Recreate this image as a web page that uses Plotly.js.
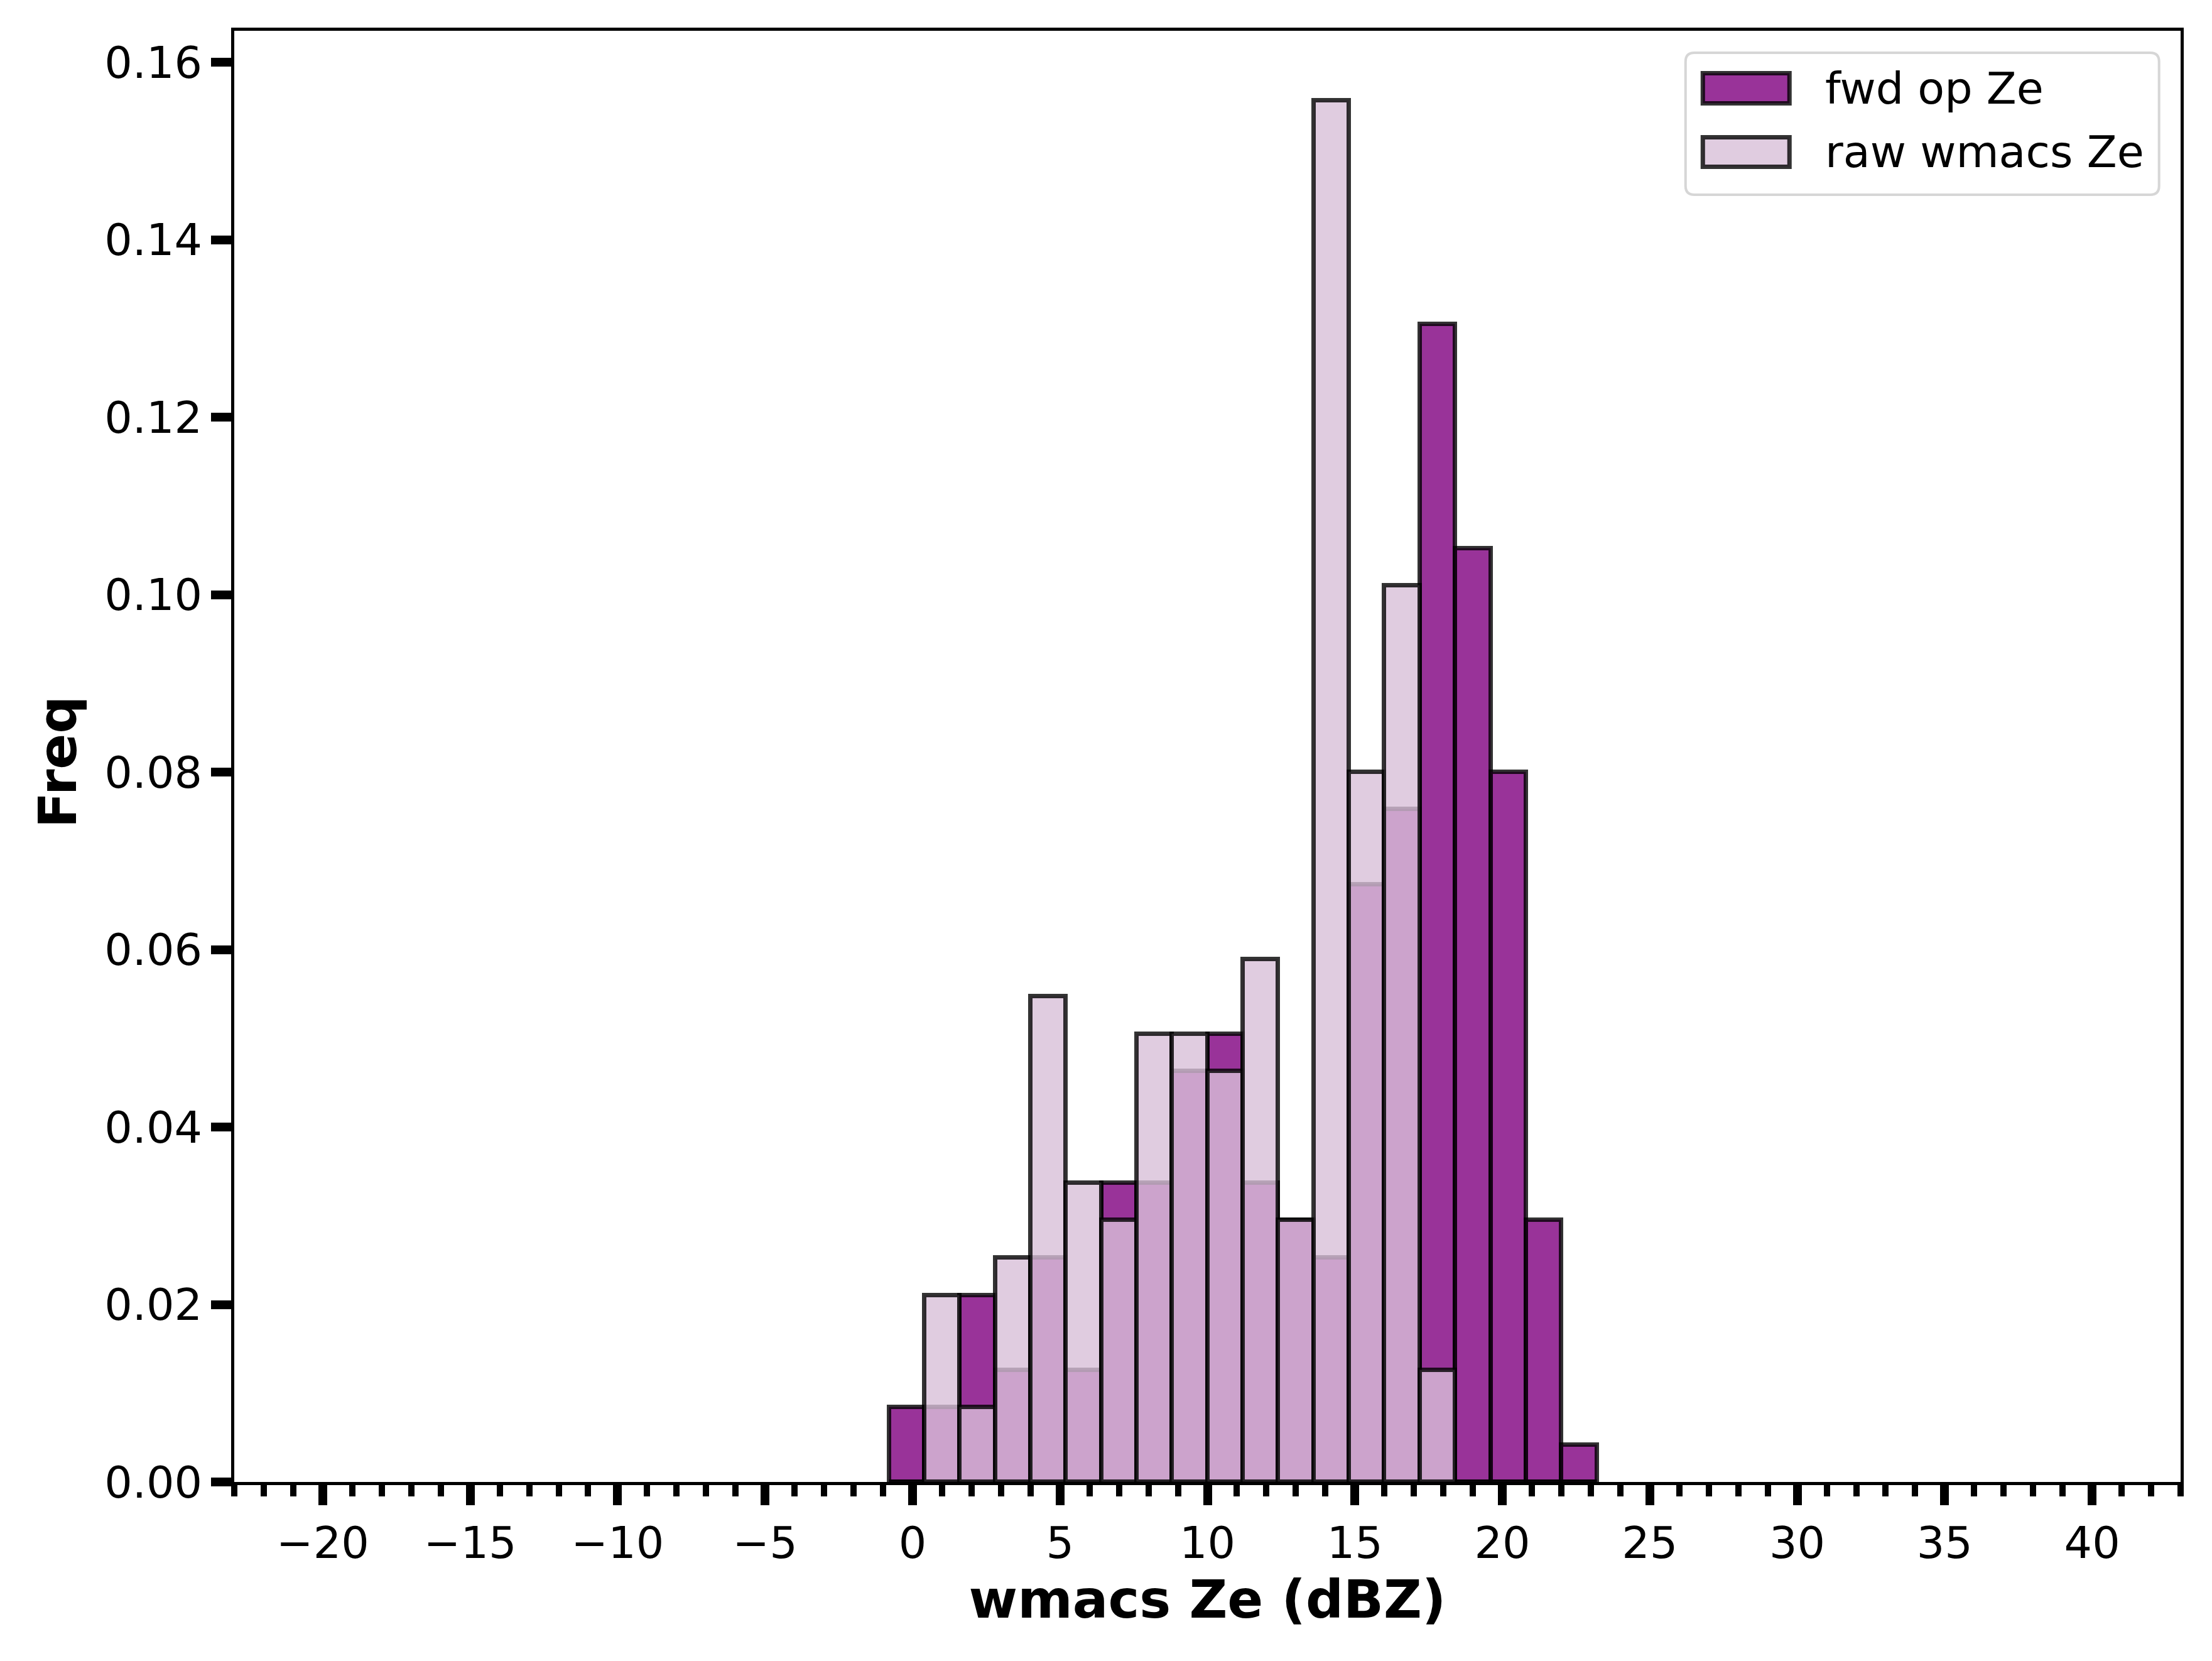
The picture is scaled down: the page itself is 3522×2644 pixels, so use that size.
<!DOCTYPE html>
<html>
<head>
<meta charset="utf-8">
<script src="https://cdn.plot.ly/plotly-3.0.1.min.js"></script>
<style>
  html, body { margin: 0; padding: 0; background: #fff; }
  #plot { width: 3522px; height: 2644px; }
</style>
</head>
<body>
<div id="plot"></div>
<script>
// bin centres (dBZ), bins are 1.2 dBZ wide
var binCenters = [-0.195, 1.005, 2.205, 3.405, 4.605, 5.805, 7.005, 8.205, 9.405, 10.605,
                  11.805, 13.005, 14.205, 15.405, 16.605, 17.805, 19.005, 20.205, 21.405, 22.605];
var binWidth = 1.2;

// density per bin
var fwdFreq = [0.0084, 0.0084, 0.0210, 0.0126, 0.0253, 0.0126, 0.0337, 0.0337, 0.0463, 0.0505,
               0.0337, 0.0295, 0.0253, 0.0673, 0.0758, 0.1305, 0.1052, 0.0800, 0.0295, 0.0042];
var rawFreq = [0.0000, 0.0210, 0.0084, 0.0253, 0.0547, 0.0337, 0.0295, 0.0505, 0.0505, 0.0463,
               0.0589, 0.0295, 0.1557, 0.0800, 0.1010, 0.0126, 0.0000, 0.0000, 0.0000, 0.0000];

var seriesNames = ['fwd op Ze', 'raw wmacs Ze'];
var xTickVals = [-20, -15, -10, -5, 0, 5, 10, 15, 20, 25, 30, 35, 40];

(function (document, window) {
    document.addEventListener("DOMContentLoaded", function () {

        var W = 3522, H = 2644;
        var L = 373, R = 3472.3, T = 49, B = 2358.8;

        var fwdColor = 'rgba(128,0,128,0.8)';
        var rawColor = 'rgba(216,191,216,0.8)';
        var edge = { color: 'rgba(0,0,0,0.8)', width: 7 };
        var font = 'DejaVu Sans';

        var data = [
            { type: 'bar', name: seriesNames[0], x: binCenters, y: fwdFreq, width: binWidth,
              marker: { color: fwdColor, line: edge }, showlegend: false, hoverinfo: 'x+y' },
            { type: 'bar', name: seriesNames[1], x: binCenters, y: rawFreq, width: binWidth,
              marker: { color: rawColor, line: edge }, showlegend: false, hoverinfo: 'x+y' }
        ];

        // pixel -> paper helpers for the hand made legend
        function px(v) { return (v - L) / (R - L); }
        function py(v) { return (B - v) / (B - T); }

        function roundRect(x0, y0, x1, y1, r) {
            return 'M' + px(x0 + r) + ',' + py(y0) +
                ' L' + px(x1 - r) + ',' + py(y0) +
                ' Q' + px(x1) + ',' + py(y0) + ' ' + px(x1) + ',' + py(y0 + r) +
                ' L' + px(x1) + ',' + py(y1 - r) +
                ' Q' + px(x1) + ',' + py(y1) + ' ' + px(x1 - r) + ',' + py(y1) +
                ' L' + px(x0 + r) + ',' + py(y1) +
                ' Q' + px(x0) + ',' + py(y1) + ' ' + px(x0) + ',' + py(y1 - r) +
                ' L' + px(x0) + ',' + py(y0 + r) +
                ' Q' + px(x0) + ',' + py(y0) + ' ' + px(x0 + r) + ',' + py(y0) + ' Z';
        }

        var shapes = [
            { type: 'path', xref: 'paper', yref: 'paper', path: roundRect(2684, 84, 3438, 310, 14),
              fillcolor: 'rgba(255,255,255,0.8)', line: { color: 'rgba(204,204,204,0.8)', width: 4 } },
            { type: 'rect', xref: 'paper', yref: 'paper',
              x0: px(2711.5), x1: px(2849.5), y0: py(116.5), y1: py(164.5),
              fillcolor: fwdColor, line: edge },
            { type: 'rect', xref: 'paper', yref: 'paper',
              x0: px(2711.5), x1: px(2849.5), y0: py(218.5), y1: py(265.5),
              fillcolor: rawColor, line: edge }
        ];

        var annotations = [
            { xref: 'paper', yref: 'paper', x: px(2904), y: py(141), xanchor: 'left', yanchor: 'middle',
              text: seriesNames[0], showarrow: false, font: { family: font, size: 70, color: '#000' } },
            { xref: 'paper', yref: 'paper', x: px(2904), y: py(242), xanchor: 'left', yanchor: 'middle',
              text: seriesNames[1], showarrow: false, font: { family: font, size: 70, color: '#000' } },
            // y axis title, placed by hand
            { xref: 'paper', yref: 'paper', x: px(92), y: py(1213), xanchor: 'center', yanchor: 'middle',
              textangle: -90, text: '<b>Freq</b>', showarrow: false,
              font: { family: font, size: 84, color: '#000' } }
        ];

        var layout = {
            width: W, height: H,
            margin: { l: L, r: W - R, t: T, b: H - B, pad: 0 },
            paper_bgcolor: '#fff', plot_bgcolor: '#fff',
            barmode: 'overlay', bargap: 0,
            font: { family: font, size: 70, color: '#000' },
            showlegend: false,
            xaxis: {
                range: [-23, 43],
                tickmode: 'array', tickvals: xTickVals,
                ticks: 'outside', ticklen: 32, tickwidth: 14, tickcolor: '#000',
                minor: { dtick: 1, tick0: 0, ticks: 'outside', ticklen: 18, tickwidth: 10, tickcolor: '#000' },
                showline: true, linecolor: '#000', linewidth: 5, mirror: true,
                showgrid: false, zeroline: false,
                tickfont: { family: font, size: 70, color: '#000' },
                title: { text: '<b>wmacs Ze (dBZ)</b>', font: { family: font, size: 84, color: '#000' }, standoff: 10 }
            },
            yaxis: {
                range: [0, 0.16354],
                tickmode: 'linear', tick0: 0, dtick: 0.02, tickformat: '.2f',
                ticks: 'outside', ticklen: 32, tickwidth: 14, tickcolor: '#000',
                showline: true, linecolor: '#000', linewidth: 5, mirror: true,
                showgrid: false, zeroline: false,
                tickfont: { family: font, size: 70, color: '#000' }
            },
            shapes: shapes,
            annotations: annotations
        };

        Plotly.newPlot('plot', data, layout, { displayModeBar: false, responsive: false });
    });
})(document, window);
</script>
</body>
</html>
